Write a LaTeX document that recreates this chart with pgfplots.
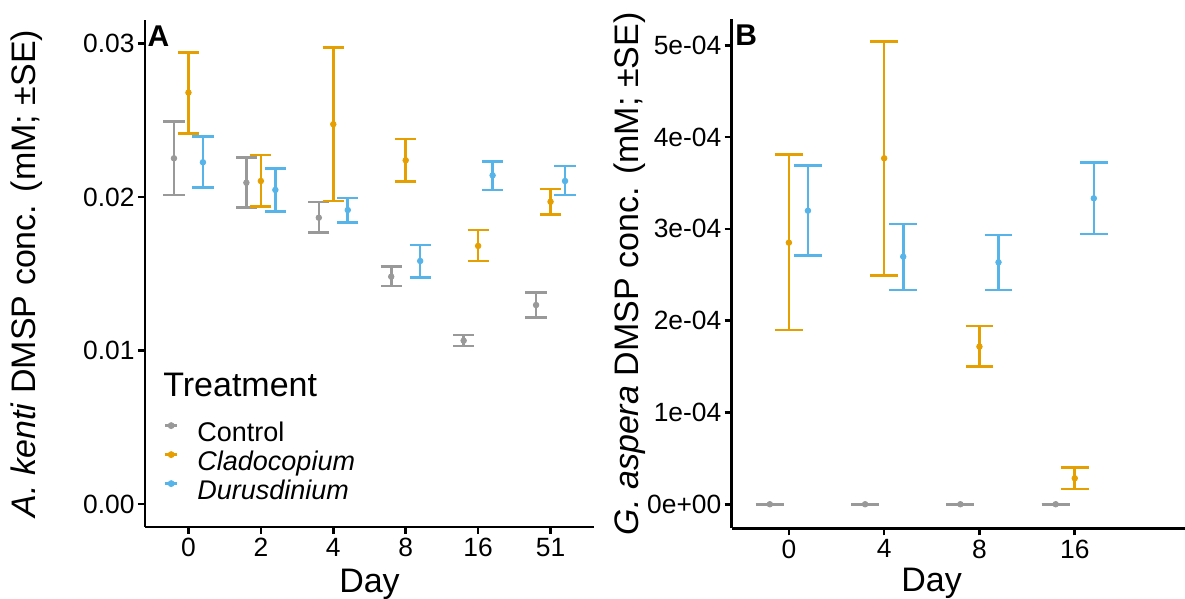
\documentclass[border=0pt]{standalone}
\usepackage{fontspec}
\setmainfont{Liberation Sans}
\usepackage{pgfplots}
\pgfplotsset{compat=1.18}

\definecolor{ctrl}{HTML}{999999}
\definecolor{clado}{HTML}{E69F00}
\definecolor{durus}{HTML}{56B4E9}

\pgfplotsset{
  dmsp/.style={
    scale only axis,
    axis x line*=bottom, axis y line*=left,
    axis line style={line width=1.3pt, black},
    tick align=outside, major tick length=3.5pt,
    every tick/.style={black, line width=1.3pt},
    tick label style={font=\fontsize{13.2}{15}\selectfont, black},
    yticklabel style={inner xsep=1.5pt},
    xticklabel style={inner ysep=2pt},
    scaled y ticks=false,
    clip=false,
  },
  % #1 colour, #2 half cap width
  ebar/.style n args={2}{
    only marks, mark=*, mark size=1.4pt, color=#1, fill=#1,
    mark options={draw=#1, fill=#1},
    error bars/y dir=both, error bars/y explicit,
    error bars/error mark=|,
    error bars/error bar style={line width=1.3pt, color=#1},
    error bars/error mark options={line width=1.3pt, color=#1, mark size=#2},
    legend image code/.code={
      \draw[color=#1, line width=1.3pt] (0pt,4.7pt) -- (6pt,4.7pt);
      \fill[color=#1] (3pt,4.7pt) circle (1.5pt);
    },
  },
}

\begin{document}
\begin{tikzpicture}
\useasboundingbox (0,0) rectangle (592.5pt,299.5pt);

% ---- panel A ----
\begin{axis}[dmsp,
  at={(72.5pt,36pt)}, anchor=south west,
  width=224.5pt, height=253.5pt,
  xmin=-0.6, xmax=5.6, ymin=-0.0015, ymax=0.03153,
  xtick={0,1,2,3,4,5}, xticklabels={0,2,4,8,16,51},
  ytick={0,0.01,0.02,0.03}, yticklabels={0.00,0.01,0.02,0.03},
  xlabel={Day},
  ylabel={\textit{A. kenti} DMSP conc. (mM; ±SE)},
  every axis x label/.style={at={(axis description cs:0.5,-0.130)}, anchor=base,
    font=\fontsize{17}{19}\selectfont},
  every axis y label/.style={at={(axis description cs:-0.263,0.5)}, anchor=center,
    rotate=90, font=\fontsize{17}{19}\selectfont},
  legend cell align=left,
  legend style={at={(axis description cs:0.042,0.210)}, anchor=north west,
    draw=none, fill=none, inner sep=0pt, outer sep=0pt, column sep=9.5pt, row sep=0pt,
    font=\fontsize{13.5}{15}\selectfont,
    nodes={inner sep=0pt, text height=10.5pt, text depth=4pt}},
]
\addplot[ebar={ctrl}{5.3pt}] coordinates {
  (-0.2,0.02252) += (0,0.00239) -= (0,0.00239)
  (0.8,0.02093)  += (0,0.00165) -= (0,0.00163)
  (1.8,0.01865)  += (0,0.00102) -= (0,0.00095)
  (2.8,0.01481)  += (0,0.00065) -= (0,0.00061)
  (3.8,0.01064)  += (0,0.00037) -= (0,0.00035)
  (4.8,0.01296)  += (0,0.00083) -= (0,0.00082)
};
\addlegendentry{Control}
\addplot[ebar={clado}{5.3pt}] coordinates {
  (0,0.02680) += (0,0.00262) -= (0,0.00265)
  (1,0.02104) += (0,0.00170) -= (0,0.00167)
  (2,0.02474) += (0,0.00499) -= (0,0.00500)
  (3,0.02239) += (0,0.00139) -= (0,0.00139)
  (4,0.01681) += (0,0.00104) -= (0,0.00098)
  (5,0.01969) += (0,0.00083) -= (0,0.00082)
};
\addlegendentry{\textit{Cladocopium}}
\addplot[ebar={durus}{5.3pt}] coordinates {
  (0.2,0.02226) += (0,0.00167) -= (0,0.00165)
  (1.2,0.02046) += (0,0.00141) -= (0,0.00139)
  (2.2,0.01915) += (0,0.00078) -= (0,0.00082)
  (3.2,0.01583) += (0,0.00104) -= (0,0.00106)
  (4.2,0.02141) += (0,0.00089) -= (0,0.00095)
  (5.2,0.02104) += (0,0.00098) -= (0,0.00091)
};
\addlegendentry{\textit{Durusdinium}}
\node[anchor=base west, inner sep=0pt, font=\fontsize{17}{19}\selectfont]
  at (axis description cs:0.040,0.257) {Treatment};
\node[anchor=base west, inner sep=0pt, font=\bfseries\fontsize{15}{17}\selectfont]
  at (axis description cs:0.005,0.947) {A};
\end{axis}

% ---- panel B ----
\begin{axis}[dmsp,
  at={(365.85pt,35.35pt)}, anchor=south west,
  width=226.65pt, height=254.5pt,
  xmin=-0.6, xmax=4.157, ymin=-0.262e-4, ymax=5.283e-4,
  xtick={0,1,2,3}, xticklabels={0,4,8,16},
  ytick={0,0.0001,0.0002,0.0003,0.0004,0.0005},
  yticklabels={0e+00,1e-04,2e-04,3e-04,4e-04,5e-04},
  xlabel={Day},
  ylabel={\textit{G. aspera} DMSP conc. (mM; ±SE)},
  every axis x label/.style={at={(axis description cs:0.441,-0.1235)}, anchor=base,
    font=\fontsize{17}{19}\selectfont},
  every axis y label/.style={at={(axis description cs:-0.224,0.5)}, anchor=center,
    rotate=90, font=\fontsize{17}{19}\selectfont},
]
\addplot[ebar={ctrl}{7pt}] coordinates {
  (-0.2,0) += (0,0) -= (0,0)
  (0.8,0)  += (0,0) -= (0,0)
  (1.8,0)  += (0,0) -= (0,0)
  (2.8,0)  += (0,0) -= (0,0)
};
\addplot[ebar={clado}{6.9pt}] coordinates {
  (0,2.850e-4) += (0,0.963e-4) -= (0,0.951e-4)
  (1,3.769e-4) += (0,1.270e-4) -= (0,1.275e-4)
  (2,1.717e-4) += (0,0.225e-4) -= (0,0.218e-4)
  (3,0.283e-4) += (0,0.120e-4) -= (0,0.116e-4)
};
\addplot[ebar={durus}{6.9pt}] coordinates {
  (0.2,3.198e-4) += (0,0.491e-4) -= (0,0.490e-4)
  (1.2,2.697e-4) += (0,0.356e-4) -= (0,0.363e-4)
  (2.2,2.636e-4) += (0,0.298e-4) -= (0,0.302e-4)
  (3.2,3.333e-4) += (0,0.392e-4) -= (0,0.389e-4)
};
\node[anchor=base west, inner sep=0pt, font=\bfseries\fontsize{15}{17}\selectfont]
  at (axis description cs:0.007,0.9495) {B};
\end{axis}
\end{tikzpicture}
\end{document}
